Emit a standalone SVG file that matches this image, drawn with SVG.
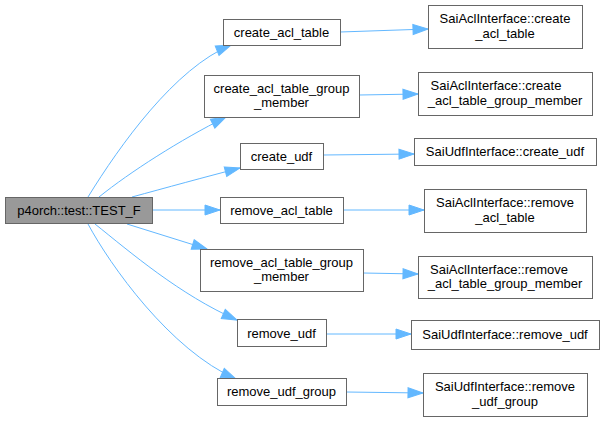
<svg xmlns="http://www.w3.org/2000/svg" width="605" height="421" viewBox="0 0 605 421">
<style>
.n{fill:#ffffff;stroke:#666666;stroke-width:1}
.root{fill:#999999;stroke:#666666;stroke-width:1}
text{font-family:"Liberation Sans",Arial,sans-serif;font-size:13px;fill:#000000;text-anchor:middle}
.e{fill:none;stroke:#63b8ff;stroke-width:1}
</style>
<defs>
<marker id="ah" markerUnits="userSpaceOnUse" markerWidth="16" markerHeight="11" refX="15" refY="5" orient="auto" overflow="visible">
<path d="M0,0 L15,5 L0,10 Z" fill="#63b8ff" stroke="#63b8ff" stroke-width="1"/>
</marker>
</defs>
<rect width="605" height="421" fill="#ffffff"/>
<g id="connectors">
<path class="e" marker-end="url(#ah)" d="M88,197 C120,145 175,68 231,45"/>
<path class="e" marker-end="url(#ah)" d="M99,197 C130,172 180,140 226,117"/>
<path class="e" marker-end="url(#ah)" d="M132,197 C165,188 205,177 240,168"/>
<path class="e" marker-end="url(#ah)" d="M153,210 L220,210"/>
<path class="e" marker-end="url(#ah)" d="M127,224 L207,249"/>
<path class="e" marker-end="url(#ah)" d="M95,224 C130,252 180,295 237,320"/>
<path class="e" marker-end="url(#ah)" d="M88,224 C110,265 170,350 236,379"/>
<path class="e" marker-end="url(#ah)" d="M340,32 L428,29"/>
<path class="e" marker-end="url(#ah)" d="M359,95 L418,94"/>
<path class="e" marker-end="url(#ah)" d="M323,155 L414,154"/>
<path class="e" marker-end="url(#ah)" d="M343,210 L424,210"/>
<path class="e" marker-end="url(#ah)" d="M363,273 L418,274"/>
<path class="e" marker-end="url(#ah)" d="M326,334 L411,334"/>
<path class="e" marker-end="url(#ah)" d="M346,392 L423,393"/>
</g>
<g id="root">
<rect class="root" x="5.5" y="197.5" width="147" height="26"/>
<text x="79" y="215">p4orch::test::TEST_F</text>
</g>
<g id="create_acl_table">
<rect class="n" x="223.5" y="19.5" width="117" height="26"/>
<text x="281.5" y="36.5">create_acl_table</text>
</g>
<g id="create_acl_table_group_member">
<rect class="n" x="204.5" y="75.5" width="155" height="42"/>
<text x="281.5" y="92.5">create_acl_table_group</text>
<text x="281.5" y="106.5">_member</text>
</g>
<g id="create_udf">
<rect class="n" x="240.5" y="143.5" width="83" height="26"/>
<text x="281.5" y="160.5">create_udf</text>
</g>
<g id="remove_acl_table">
<rect class="n" x="220.5" y="197.5" width="123" height="26"/>
<text x="281.5" y="215">remove_acl_table</text>
</g>
<g id="remove_acl_table_group_member">
<rect class="n" x="200.5" y="249.5" width="163" height="42"/>
<text x="281.5" y="267">remove_acl_table_group</text>
<text x="281.5" y="281">_member</text>
</g>
<g id="remove_udf">
<rect class="n" x="237.5" y="319.5" width="89" height="27"/>
<text x="281.5" y="337.5">remove_udf</text>
</g>
<g id="remove_udf_group">
<rect class="n" x="217.5" y="378.5" width="129" height="27"/>
<text x="281.5" y="396">remove_udf_group</text>
</g>
<g id="sai_create_acl_table">
<rect class="n" x="428.5" y="5.5" width="154" height="43"/>
<text x="505" y="23">SaiAclInterface::create</text>
<text x="505" y="37.5">_acl_table</text>
</g>
<g id="sai_create_acl_table_group_member">
<rect class="n" x="418.5" y="72.5" width="174" height="43"/>
<text x="496" y="90">SaiAclInterface::create</text>
<text x="505" y="104.5">_acl_table_group_member</text>
</g>
<g id="sai_create_udf">
<rect class="n" x="414.5" y="138.5" width="182" height="27"/>
<text x="505" y="156">SaiUdfInterface::create_udf</text>
</g>
<g id="sai_remove_acl_table">
<rect class="n" x="424.5" y="189.5" width="162" height="43"/>
<text x="505" y="207">SaiAclInterface::remove</text>
<text x="505" y="221.5">_acl_table</text>
</g>
<g id="sai_remove_acl_table_group_member">
<rect class="n" x="418.5" y="256.5" width="174" height="42"/>
<text x="499" y="273.5">SaiAclInterface::remove</text>
<text x="505" y="288">_acl_table_group_member</text>
</g>
<g id="sai_remove_udf">
<rect class="n" x="411.5" y="320.5" width="188" height="29"/>
<text x="505" y="339">SaiUdfInterface::remove_udf</text>
</g>
<g id="sai_remove_udf_group">
<rect class="n" x="423.5" y="373.5" width="164" height="43"/>
<text x="505" y="391">SaiUdfInterface::remove</text>
<text x="505" y="405.5">_udf_group</text>
</g>
</svg>
